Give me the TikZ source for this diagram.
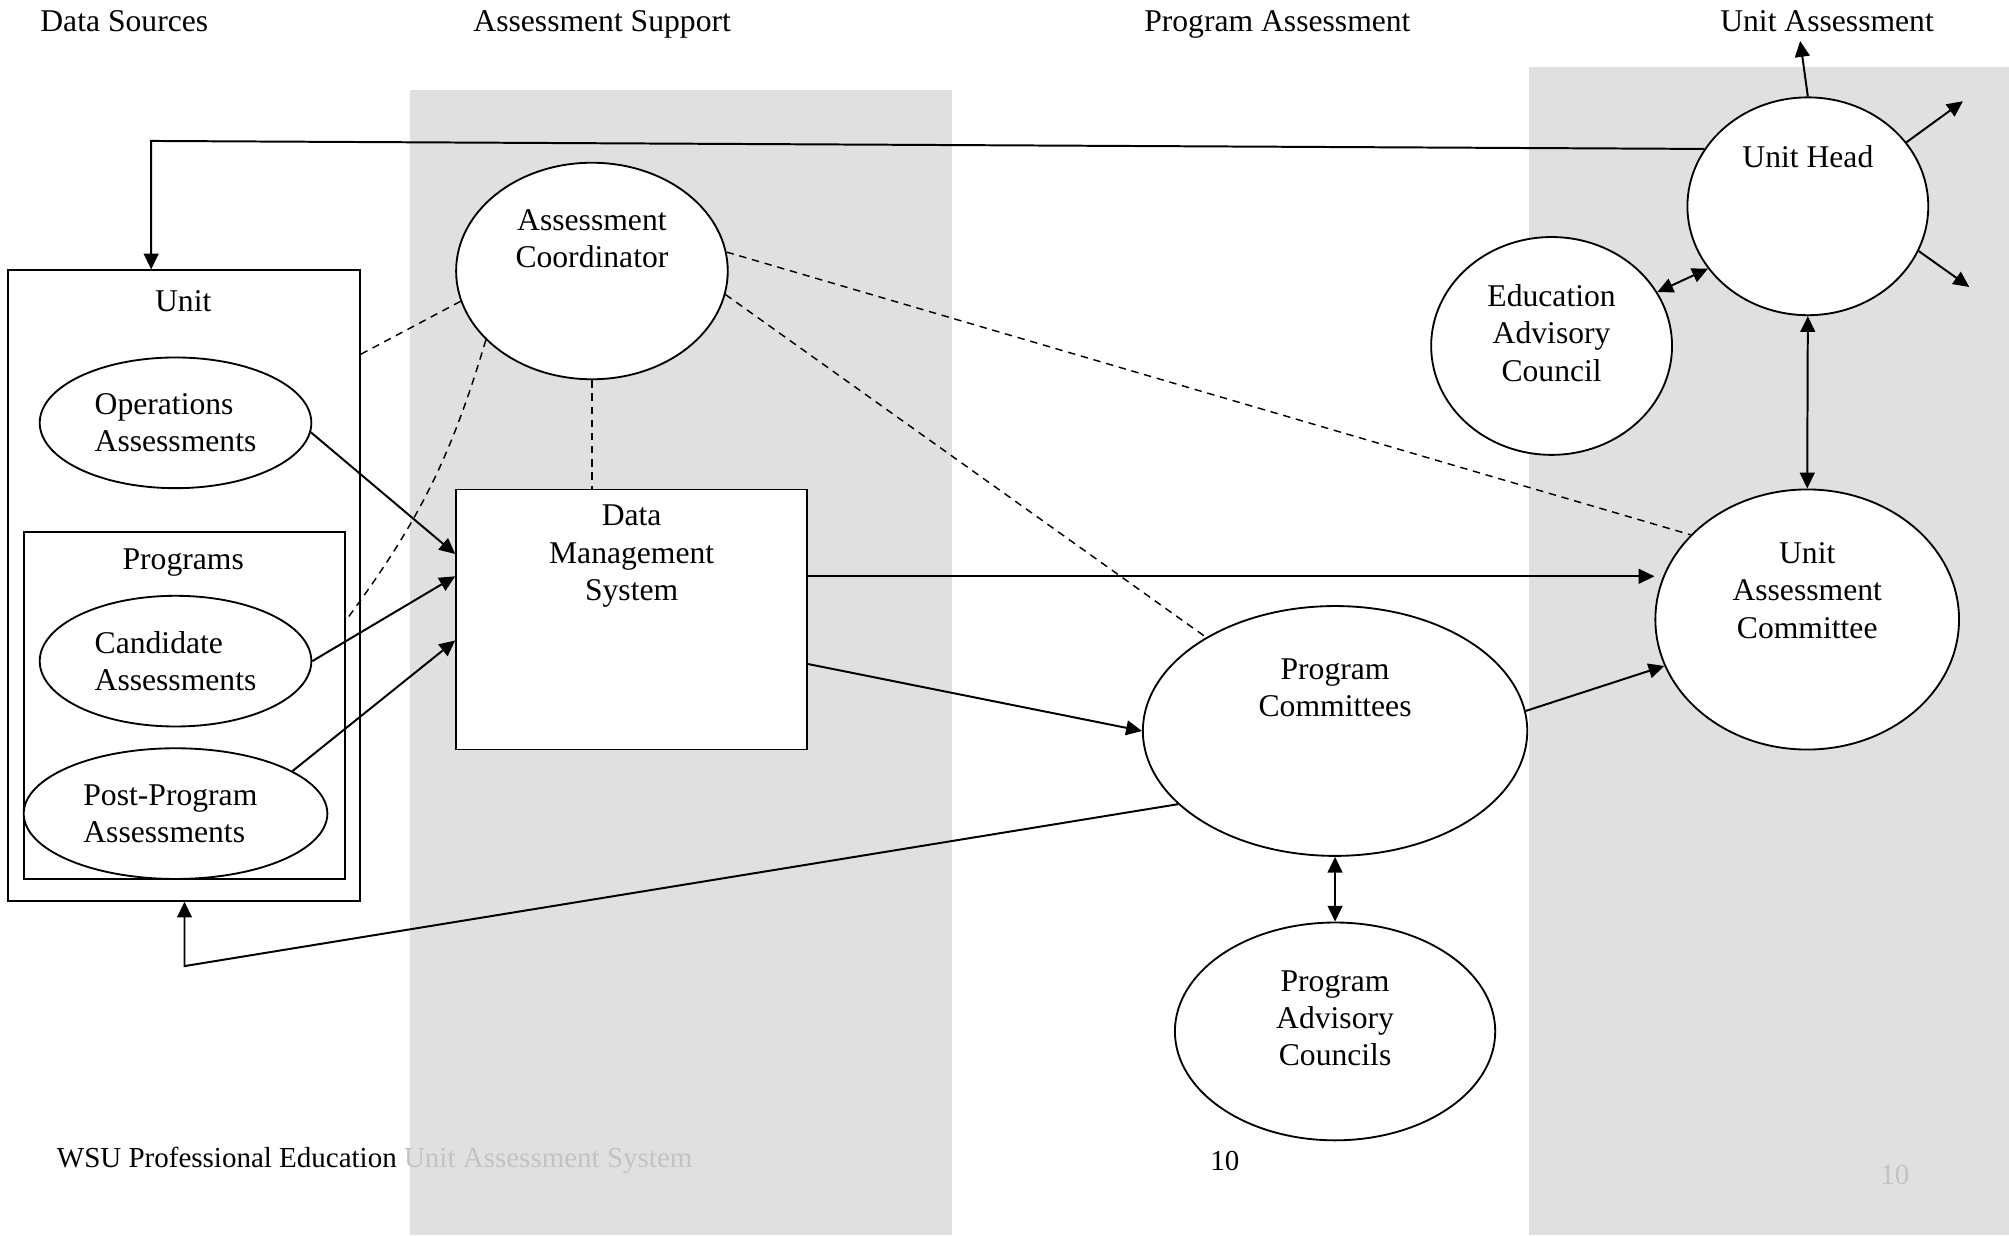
\documentclass[tikz,border=0pt]{standalone}
\usepackage{fontspec}
\setmainfont{Liberation Serif}
\usetikzlibrary{arrows.meta,shapes.geometric,calc}
\newdimen\unitpx
\unitpx=0.486pt
\definecolor{bandgray}{RGB}{224,224,224}
\definecolor{footgray}{RGB}{195,195,195}

\begin{document}
\begin{tikzpicture}[x=0.486pt,y=-0.486pt,
  every node/.style={inner sep=0pt,align=center,font=\fontsize{12}{14.1}\selectfont},
  oval/.style={draw,ellipse,line width=0.7pt,fill=white},
  box/.style={draw,rectangle,line width=0.7pt},
  head/.style={anchor=base},
  foot/.style={font=\fontsize{11}{13}\selectfont},
  arr/.style={-{Triangle[length=6pt,width=5.6pt]},line width=0.75pt},
  darr/.style={{Triangle[length=6pt,width=5.6pt]}-{Triangle[length=6pt,width=5.6pt]},line width=0.75pt},
  dashline/.style={dash pattern=on 2.8pt off 2.2pt,line width=0.55pt}]
\useasboundingbox (0,0) rectangle (1568,964);
\fill [bandgray] (320,70) rectangle (743,964);
\fill [bandgray] (1193,52) rectangle (1568,964);
\node [head] (hsrc) at (97,24.5) {Data Sources};
\node [head] (hsup) at (470,24.5) {Assessment Support};
\node [head] (hprog) at (997,24.5) {Program Assessment};
\node [head] (hunit) at (1426,24.5) {Unit Assessment};
\node [box,minimum width=275\unitpx,minimum height=492\unitpx] (unit) at (143.5,457) {};
\node (unittxt) at (143,235) {Unit};
\node [box,minimum width=250\unitpx,minimum height=271\unitpx] (progs) at (144,550.5) {};
\node (progstxt) at (143,439) {Programs};
\node [oval,align=left,minimum width=212\unitpx,minimum height=102\unitpx] (ops) at (137,330) {Operations\\Assessments};
\node [oval,align=left,minimum width=212\unitpx,minimum height=102\unitpx] (cand) at (137,516) {Candidate\\Assessments};
\node [oval,minimum width=237\unitpx,minimum height=102\unitpx] (post) at (137,635) {};
\node [align=left] (posttxt) at (133,635) {Post-Program\\Assessments};
\node [oval,minimum width=212\unitpx,minimum height=169\unitpx] (coord) at (462,211.5) {};
\node (coordtxt) at (462,186.5) {Assessment\\Coordinator};
\node [box,fill=white,minimum width=274\unitpx,minimum height=203\unitpx] (dms) at (493,483.5) {};
\node (dmstxt) at (493,434) {Data\\Management\\System};
\node [oval,minimum width=188\unitpx,minimum height=170\unitpx] (uhead) at (1411,161) {};
\node (uheadtxt) at (1411,122) {Unit Head};
\node [oval,minimum width=188\unitpx,minimum height=170\unitpx] (edu) at (1211,270) {};
\node (edutxt) at (1211,260) {Education\\Advisory\\Council};
\node [oval,minimum width=237\unitpx,minimum height=203\unitpx] (uac) at (1410.5,483.5) {};
\node (uactxt) at (1410.5,461) {Unit\\Assessment\\Committee};
\node [oval,minimum width=300\unitpx,minimum height=195\unitpx] (pc) at (1042,570.5) {};
\node (pctxt) at (1042,537) {Program\\Committees};
\node [oval,minimum width=250\unitpx,minimum height=170\unitpx] (pac) at (1042,805) {};
\node (pactxt) at (1042,795) {Program\\Advisory\\Councils};
\node [foot,anchor=west] (foottxt) at (44,906) {WSU Professional Education \textcolor{footgray}{Unit Assessment System}};
\node [foot] (pgno) at (956,906) {10};
\node [foot,text=footgray] (pgnogray) at (1479,917) {10};
\coordinate (topturn) at (118,110);
\coordinate (botturn) at (144,754);
\coordinate (uhtop) at (1405,32);
\coordinate (uhne) at (1532,79);
\coordinate (uhse) at (1537,224);
\coordinate (dmsout) at ($(dms.north east)!0.335!(dms.south east)$);
\draw [dashline] (coord.193) -- ($(unit.north east)!0.134!(unit.south east)$);
\draw [dashline] (coord.213) to [bend left=10] ($(progs.north east)!0.258!(progs.south east)$);
\draw [dashline] (coord.south) -- (coord.south |- dms.north);
\draw [dashline] (coord.8) -- (uac.144);
\draw [dashline] (coord.-10) -- (pc.144);
\draw [arr] (uhead.151) -- (topturn) -- (unit.north -| topturn);
\draw [arr] (uhead.north) -- (uhtop);
\draw [arr] (uhead.33) -- (uhne);
\draw [arr] (uhead.-22) -- (uhse);
\draw [darr] (edu.27) -- (uhead.212);
\draw [darr] (uhead.south) -- (uac.north);
\draw [arr] (dmsout) -- (dmsout -| uac.west);
\draw [arr] ($(dms.north east)!0.67!(dms.south east)$) -- (pc.west);
\draw [arr] (pc.6) -- (uac.198);
\draw [darr] (pc.south) -- (pac.north);
\draw [arr] (pc.205) -- (botturn) -- (unit.south -| botturn);
\draw [arr] (ops.-4) -- ($(dms.north west)!0.25!(dms.south west)$);
\draw [arr] (cand.east) -- ($(dms.north west)!0.335!(dms.south west)$);
\draw [arr] (post.20) -- ($(dms.north west)!0.58!(dms.south west)$);
\end{tikzpicture}
\end{document}
